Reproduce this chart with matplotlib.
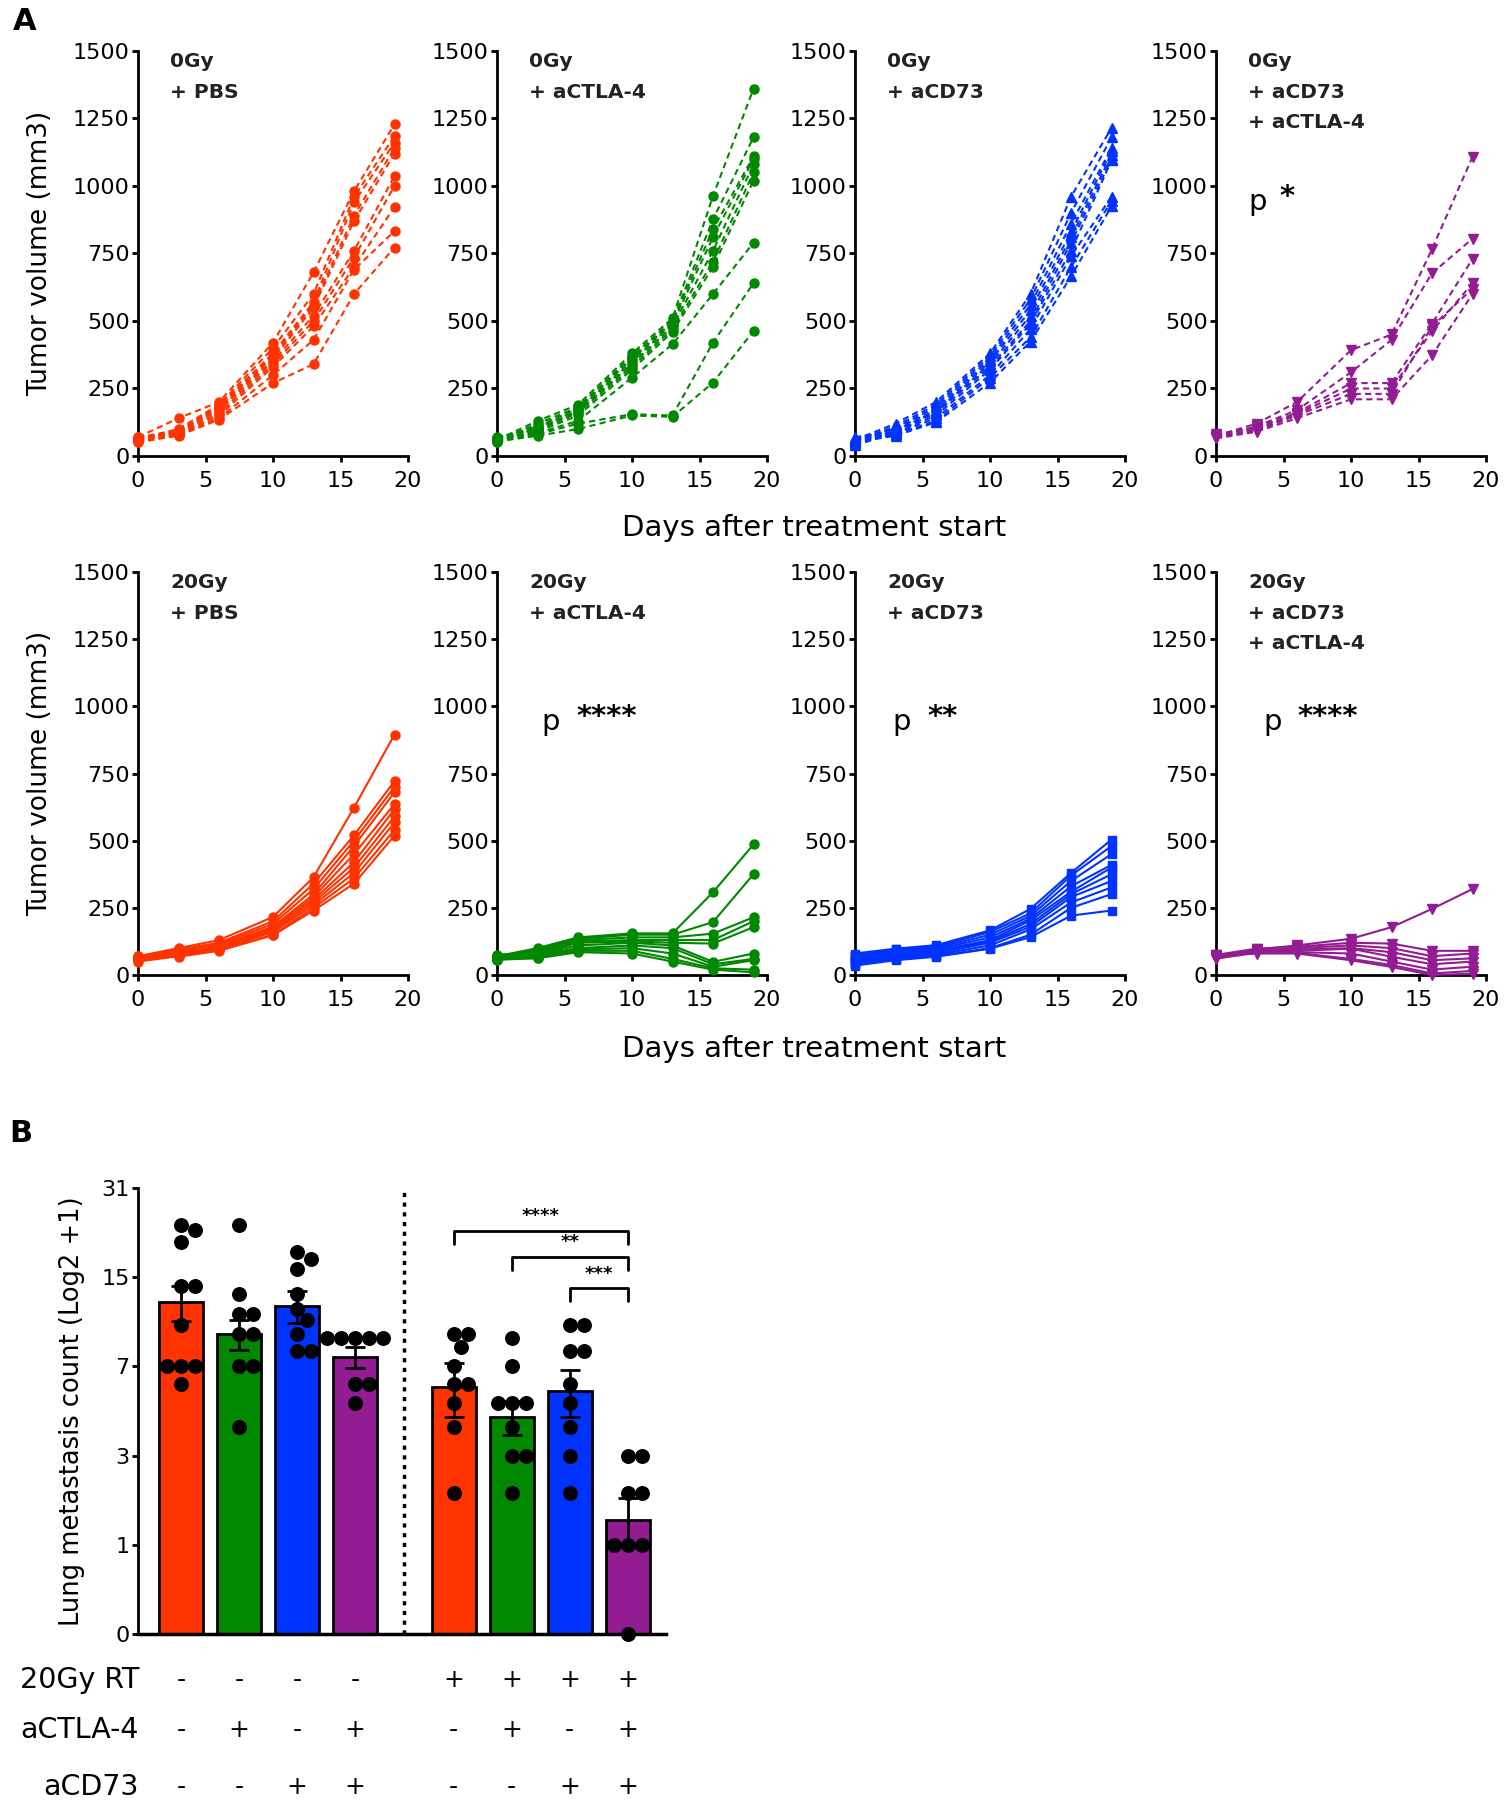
import numpy as np
import matplotlib
matplotlib.use("Agg")
import matplotlib.pyplot as plt
from matplotlib import transforms

plt.rcParams['font.family'] = ['DejaVu Sans']

# ---------------- data ----------------
days = [0, 3, 6, 10, 13, 16, 19]

vol_0gy_pbs = [
    [70, 140, 200, 420, 680, 981, 1228],
    [65, 100, 190, 400, 600, 960, 1185],
    [60, 95, 185, 380, 570, 940, 1160],
    [72, 90, 180, 370, 560, 890, 1140],
    [55, 88, 175, 360, 550, 870, 1120],
    [62, 85, 170, 350, 520, 760, 1037],
    [58, 82, 160, 340, 500, 735, 1000],
    [68, 80, 150, 330, 480, 700, 922],
    [50, 78, 140, 300, 430, 690, 833],
    [52, 75, 135, 270, 340, 600, 772],
]
vol_0gy_ctla4 = [
    [60, 130, 190, 380, 510, 963, 1360],
    [55, 120, 180, 370, 500, 877, 1180],
    [65, 110, 175, 360, 495, 840, 1110],
    [50, 105, 170, 350, 490, 810, 1100],
    [70, 100, 165, 340, 480, 760, 1080],
    [58, 95, 160, 330, 470, 720, 1050],
    [62, 90, 150, 320, 460, 700, 1020],
    [52, 85, 130, 290, 414, 600, 790],
    [68, 80, 120, 155, 150, 420, 640],
    [54, 75, 100, 150, 145, 272, 463],
]
vol_0gy_cd73 = [
    [60, 120, 200, 380, 600, 960, 1215],
    [55, 110, 190, 370, 580, 900, 1180],
    [50, 105, 180, 360, 560, 860, 1140],
    [65, 100, 170, 350, 540, 830, 1130],
    [45, 95, 165, 340, 520, 810, 1115],
    [70, 90, 160, 330, 500, 790, 1100],
    [58, 88, 150, 320, 490, 760, 1095],
    [40, 85, 140, 300, 470, 740, 960],
    [62, 80, 130, 290, 440, 700, 945],
    [52, 75, 125, 272, 424, 665, 925],
]
vol_0gy_combo = [
    [75, 120, 200, 392, 450, 766, 1108],
    [70, 110, 170, 310, 430, 677, 805],
    [80, 105, 160, 270, 270, 490, 730],
    [68, 100, 155, 250, 250, 462, 640],
    [72, 95, 150, 230, 230, 480, 620],
    [65, 90, 140, 210, 210, 373, 600],
]
vol_20gy_pbs = [
    [70, 100, 130, 216, 364, 623, 895],
    [65, 95, 120, 200, 340, 520, 722],
    [60, 90, 115, 190, 320, 500, 700],
    [72, 85, 110, 180, 300, 480, 680],
    [55, 80, 105, 175, 290, 450, 636],
    [68, 78, 100, 170, 280, 420, 617],
    [58, 75, 98, 165, 270, 400, 590],
    [62, 72, 95, 160, 260, 380, 568],
    [50, 70, 93, 150, 250, 360, 540],
    [66, 68, 90, 148, 240, 340, 519],
]
vol_20gy_ctla4 = [
    [70, 100, 140, 155, 155, 308, 486],
    [65, 95, 135, 150, 150, 197, 375],
    [60, 90, 130, 140, 140, 154, 215],
    [75, 85, 125, 130, 130, 130, 200],
    [58, 80, 120, 125, 120, 117, 178],
    [62, 78, 110, 120, 110, 49, 80],
    [55, 75, 100, 110, 100, 40, 60],
    [68, 70, 95, 100, 80, 31, 55],
    [72, 65, 90, 90, 60, 25, 20],
    [57, 62, 85, 80, 50, 20, 10],
]
vol_20gy_cd73 = [
    [80, 98, 111, 166, 246, 380, 504],
    [75, 95, 105, 160, 230, 370, 480],
    [70, 90, 100, 150, 220, 350, 450],
    [65, 85, 95, 140, 210, 330, 410],
    [60, 80, 90, 130, 203, 310, 400],
    [55, 75, 85, 125, 190, 301, 375],
    [50, 70, 80, 120, 180, 290, 350],
    [45, 65, 75, 110, 170, 270, 326],
    [40, 60, 70, 100, 150, 250, 301],
    [35, 55, 68, 98, 141, 221, 240],
]
vol_20gy_combo = [
    [70, 95, 110, 135, 178, 246, 320],
    [75, 98, 105, 120, 117, 90, 90],
    [65, 90, 100, 110, 100, 70, 80],
    [72, 92, 95, 100, 85, 55, 62],
    [60, 88, 90, 98, 68, 40, 50],
    [68, 85, 85, 80, 50, 20, 31],
    [62, 82, 82, 60, 37, 6, 15],
    [74, 80, 80, 55, 30, 0, 5],
]

row1_titles = ["0Gy\n+ PBS", "0Gy\n+ aCTLA-4", "0Gy\n+ aCD73", "0Gy\n+ aCD73\n+ aCTLA-4"]
row2_titles = ["20Gy\n+ PBS", "20Gy\n+ aCTLA-4", "20Gy\n+ aCD73", "20Gy\n+ aCD73\n+ aCTLA-4"]
row1_stars = ["", "", "", "*"]
row2_stars = ["", "****", "**", "****"]
y_ticks_vol = [0, 250, 500, 750, 1000, 1250, 1500]
x_ticks_days = [0, 5, 10, 15, 20]

# Panel B
met_groups = [
    [23, 22, 20, 14, 14, 10, 7, 7, 7, 6],
    [23, 13, 11, 11, 9.3, 9.3, 7, 7, 4],
    [18.5, 17.5, 16, 13, 11.5, 10.5, 9.3, 8, 8],
    [9, 9, 9, 9, 9, 6, 6, 5],
    [9.3, 9.3, 8.3, 7, 6, 6, 5, 4, 2],
    [9, 7, 5, 5, 5, 4, 3, 3, 2],
    [10, 10, 8, 8, 6, 5, 4, 3, 2],
    [3, 3, 2, 2, 1, 1, 1, 0],
]
met_means = [12.2, 9.3, 11.8, 7.6, 5.8, 4.4, 5.6, 1.42]
met_sem = [1.8, 1.2, 1.6, 0.7, 1.4, 0.7, 1.2, 0.45]
met_yticks = [0, 1, 3, 7, 15, 31]
row_labels = ["20Gy RT", "aCTLA-4", "aCD73"]
rt_signs = ["-", "-", "-", "-", "+", "+", "+", "+"]
ctla_signs = ["-", "+", "-", "+", "-", "+", "-", "+"]
cd73_signs = ["-", "-", "+", "+", "-", "-", "+", "+"]
sig_pairs = [(4, 7, "****"), (5, 7, "**"), (6, 7, "***")]

# ---------------- styles ----------------
RED = "#FF3300"
GREEN = "#008800"
BLUE = "#0033FF"
PURPLE = "#931C93"
colors = [RED, GREEN, BLUE, PURPLE]
row1_markers = ["o", "o", "^", "v"]
row2_markers = ["o", "o", "s", "v"]

W, H = 1510, 1807
fig = plt.figure(figsize=(W / 100, H / 100), dpi=100)


def px_axes(left, top, right, bottom):
    return fig.add_axes([left / W, 1 - bottom / H, (right - left) / W, (bottom - top) / H])


def style_axes(ax):
    for s in ["top", "right"]:
        ax.spines[s].set_visible(False)
    for s in ["left", "bottom"]:
        ax.spines[s].set_linewidth(2.0)
    ax.tick_params(direction="out", length=4, width=2, labelsize=16, pad=2)
    ax.tick_params(axis="x", pad=7)


panel_lefts = [138, 497, 855, 1216]
panel_w = 270
rows = [
    (51, 456, [vol_0gy_pbs, vol_0gy_ctla4, vol_0gy_cd73, vol_0gy_combo], row1_titles, row1_stars, row1_markers, (0, (3, 2))),
    (572, 975, [vol_20gy_pbs, vol_20gy_ctla4, vol_20gy_cd73, vol_20gy_combo], row2_titles, row2_stars, row2_markers, "-"),
]
pval_x = {(0, 3): 2.4, (1, 1): 3.3, (1, 2): 2.8, (1, 3): 3.5}
star_gap = {0: 2.3, 1: 2.55}

for ri, (top, bottom, datasets, titles, stars, markers, ls) in enumerate(rows):
    for ci in range(4):
        ax = px_axes(panel_lefts[ci], top, panel_lefts[ci] + panel_w, bottom)
        for mouse in datasets[ci]:
            ax.plot(days, mouse, color=colors[ci], linestyle=ls, lw=1.5,
                    marker=markers[ci], markersize=6.5 if markers[ci] != "s" else 6,
                    clip_on=False, zorder=3)
        ax.set_xlim(0, 20)
        ax.set_ylim(0, 1500)
        ax.set_xticks(x_ticks_days)
        ax.set_yticks(y_ticks_vol)
        style_axes(ax)
        ax.text(2.4, 1495, titles[ci], fontsize=14.5, fontweight="bold", va="top", ha="left",
                linespacing=1.75, color="#222222")
        if stars[ci]:
            px0 = pval_x[(ri, ci)]
            ax.text(px0, 940, "p", fontsize=21, va="center", ha="left")
            ax.text(px0 + star_gap[ri], 960, stars[ci], fontsize=21, fontweight="bold",
                    va="center", ha="left")
        if ci == 0:
            ax.set_ylabel("Tumor volume (mm3)", fontsize=19, labelpad=14)
    fig.text(814 / W, 1 - (528 if ri == 0 else 1049) / H, "Days after treatment start",
             fontsize=21, ha="center", va="center")

fig.text(25 / W, 1 - 21 / H, "A", fontsize=22, fontweight="bold", ha="center", va="center")
fig.text(21 / W, 1 - 1133 / H, "B", fontsize=22, fontweight="bold", ha="center", va="center")

# ---------------- Panel B ----------------
axB = px_axes(138, 1188, 666, 1634)
fwd = lambda v: np.log2(np.asarray(v, dtype=float) + 1)
inv = lambda u: np.power(2.0, u) - 1
axB.set_yscale("function", functions=(fwd, inv))
xpos = [0, 1, 2, 3, 4.7, 5.7, 6.7, 7.7]
axB.set_xlim(-0.74, 8.36)
axB.set_ylim(0, 31)
axB.bar(xpos, met_means, width=0.76, color=colors * 2, edgecolor="black", linewidth=2, zorder=2)
axB.errorbar(xpos, met_means, yerr=met_sem, fmt="none", ecolor="black", elinewidth=2,
             capsize=7, capthick=2, zorder=4)

# beeswarm offsets
bbox = axB.get_position()
ax_w_px = bbox.width * W
ax_h_px = bbox.height * H
ppx = ax_w_px / (8.36 + 0.74)
ppu = ax_h_px / fwd(31)
diam = 14.0
for x0, vals in zip(xpos, met_groups):
    placed = []
    for v in vals:
        y = float(fwd(v)) * ppu
        cands = [0.0]
        k = 1
        while k < 40:
            cands += [k * diam * 0.25, -k * diam * 0.25]
            k += 1
        for dx in cands:
            if all((dx - px) ** 2 + (y - py) ** 2 >= (diam * 0.98) ** 2 for px, py in placed):
                placed.append((dx, y))
                break
        axB.scatter(x0 + placed[-1][0] / ppx, v, s=95, color="black", zorder=5, clip_on=False)

axB.axvline(3.85, ymin=0, ymax=1, color="black", linestyle=(0, (1.2, 1.6)), lw=2.5)
axB.set_yticks(met_yticks)
axB.set_yticklabels([str(t) for t in met_yticks])
axB.set_xticks([])
style_axes(axB)
axB.spines["bottom"].set_linewidth(2.5)
axB.set_ylabel("Lung metastasis count (Log2 +1)", fontsize=18.5, labelpad=12)

# significance brackets (levels in log2 units)
bracket_levels = [4.52, 4.23, 3.88]
for (i, j, st), lvl in zip(sig_pairs, bracket_levels):
    ytop = inv(lvl)
    ybot = inv(lvl - 0.15)
    axB.plot([xpos[i], xpos[i], xpos[j], xpos[j]], [ybot, ytop, ytop, ybot],
             color="black", lw=2, solid_capstyle="round", solid_joinstyle="round", clip_on=False)
    axB.text((xpos[i] + xpos[j]) / 2, inv(lvl + 0.06), st, fontsize=13, fontweight="bold",
             ha="center", va="bottom")

# table of treatment signs
trans = transforms.blended_transform_factory(axB.transData, fig.transFigure)
for lbl, signs, ypx in zip(row_labels, [rt_signs, ctla_signs, cd73_signs], [1680, 1730, 1787]):
    fig.text(139 / W, 1 - ypx / H, lbl, fontsize=20.5, ha="right", va="center")
    for x0, s in zip(xpos, signs):
        axB.text(x0, 1 - ypx / H, s, transform=trans, fontsize=18, ha="center", va="center")

fig.savefig("out.png", dpi=100)
